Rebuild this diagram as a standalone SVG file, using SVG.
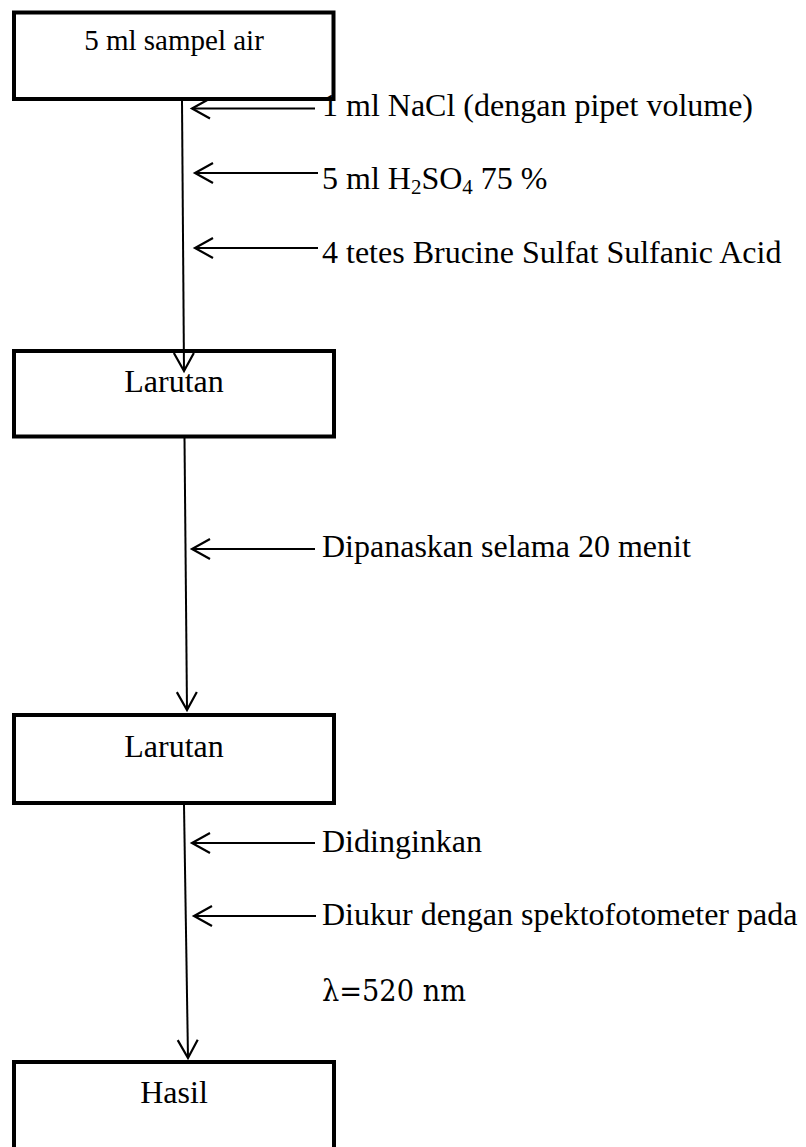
<svg xmlns="http://www.w3.org/2000/svg" width="806" height="1147" viewBox="0 0 806 1147">
  <style>
    .box { fill: #ffffff; stroke: #000000; stroke-width: 4; }
    .lbl { font-family: "Liberation Serif", "Times New Roman", serif; font-size: 32px; fill: #000000; }
    .mid { text-anchor: middle; }
    .conn { stroke: #000000; stroke-width: 2; fill: none; marker-end: url(#arr); }
    .math { font-family: "DejaVu Serif", "Liberation Serif", serif; font-size: 29px; fill: #000000; }
  </style>
  <defs>
    <marker id="arr" markerUnits="userSpaceOnUse" viewBox="-2 -12 22 24" refX="18" refY="0" markerWidth="22" markerHeight="24" orient="auto" overflow="visible">
      <path d="M0,-10 L18,0 L0,10" fill="none" stroke="#000000" stroke-width="2.2" stroke-linejoin="miter"/>
    </marker>
  </defs>
  <rect x="0" y="0" width="806" height="1147" fill="#ffffff"/>

  <g id="node-sampel">
    <rect class="box" x="14" y="12.5" width="319.5" height="86.5"/>
    <text class="lbl mid" x="174" y="50" style="font-size:29px">5 ml sampel air</text>
  </g>
  <g id="node-larutan1">
    <rect class="box" x="14" y="351" width="320" height="85.5"/>
    <text class="lbl mid" x="174" y="392">Larutan</text>
  </g>
  <g id="node-larutan2">
    <rect class="box" x="14" y="715" width="320" height="88"/>
    <text class="lbl mid" x="174" y="757">Larutan</text>
  </g>
  <g id="node-hasil">
    <rect class="box" x="14" y="1062" width="320" height="110"/>
    <text class="lbl mid" x="174" y="1103">Hasil</text>
  </g>

  <g id="connectors">
    <line class="conn" x1="182" y1="101" x2="184" y2="371"/>
    <line class="conn" x1="184.5" y1="438" x2="187" y2="710"/>
    <line class="conn" x1="184" y1="805" x2="188" y2="1058"/>
    <line class="conn" x1="315" y1="108.5" x2="192" y2="108.5"/>
    <line class="conn" x1="318" y1="173" x2="195" y2="173"/>
    <line class="conn" x1="318" y1="248" x2="195" y2="248"/>
    <line class="conn" x1="315" y1="549" x2="192" y2="549"/>
    <line class="conn" x1="315" y1="843" x2="192" y2="843"/>
    <line class="conn" x1="316" y1="916" x2="194" y2="916"/>
  </g>

  <g id="labels">
    <text class="lbl" x="322" y="116">1 ml NaCl (dengan pipet volume)</text>
    <text class="lbl" x="322" y="189">5 ml H<tspan font-size="21" dy="5">2</tspan><tspan dy="-5">SO</tspan><tspan font-size="21" dy="5">4</tspan><tspan dy="-5"> 75 %</tspan></text>
    <text class="lbl" x="322" y="263">4 tetes Brucine Sulfat Sulfanic Acid</text>
    <text class="lbl" x="322" y="557">Dipanaskan selama 20 menit</text>
    <text class="lbl" x="322" y="852">Didinginkan</text>
    <text class="lbl" x="322" y="925">Diukur dengan spektofotometer pada</text>
    <text class="math" x="322" y="1001" textLength="144" lengthAdjust="spacingAndGlyphs">λ=520 nm</text>
  </g>
</svg>
